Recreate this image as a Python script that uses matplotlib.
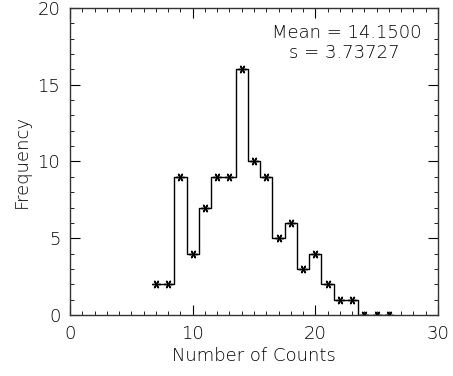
import numpy as np
import matplotlib.pyplot as plt
from matplotlib.ticker import MultipleLocator

# histogram values
counts = [7, 8, 9, 10, 11, 12, 13, 14, 15, 16, 17, 18, 19, 20, 21, 22, 23, 24, 25, 26]
freq = [2, 2, 9, 4, 7, 9, 9, 16, 10, 9, 5, 6, 3, 4, 2, 1, 1, 0, 0, 0]
mean_txt = "Mean = 14.1500"
sdev_txt = "s = 3.73727"

plt.rcParams['font.family'] = 'DejaVu Sans'
plt.rcParams['font.weight'] = 'light'
plt.rcParams['axes.labelweight'] = 'light'
fig = plt.figure(figsize=(4.53, 3.76), dpi=100)
ax = fig.add_axes([70 / 453, 1 - 315 / 376, 368 / 453, 307 / 376])

ax.step(counts, freq, where='mid', color='black', linewidth=1)
ax.plot(counts, freq, linestyle='none', marker=(6, 2, 90), markersize=6,
        markeredgewidth=1.0, color='black')

ax.set_xlim(0, 30)
ax.set_ylim(0, 20)
ax.xaxis.set_major_locator(MultipleLocator(10))
ax.xaxis.set_minor_locator(MultipleLocator(1))
ax.yaxis.set_major_locator(MultipleLocator(5))
ax.yaxis.set_minor_locator(MultipleLocator(1))
ax.tick_params(which='both', direction='in', top=True, right=True, labelsize=13, pad=7)
ax.tick_params(which='major', length=7)
ax.tick_params(which='minor', length=3)
for s in ax.spines.values():
    s.set_linewidth(1)
    s.set_color('#333333')

ax.set_xlabel('Number of Counts', fontsize=13, labelpad=3)
ax.set_ylabel('Frequency', fontsize=13, labelpad=5)

ax.text(0.955, 0.92, mean_txt, transform=ax.transAxes, ha='right', va='center', fontsize=13)
ax.text(0.895, 0.855, sdev_txt, transform=ax.transAxes, ha='right', va='center', fontsize=13)

fig.savefig('out.png', dpi=100)
